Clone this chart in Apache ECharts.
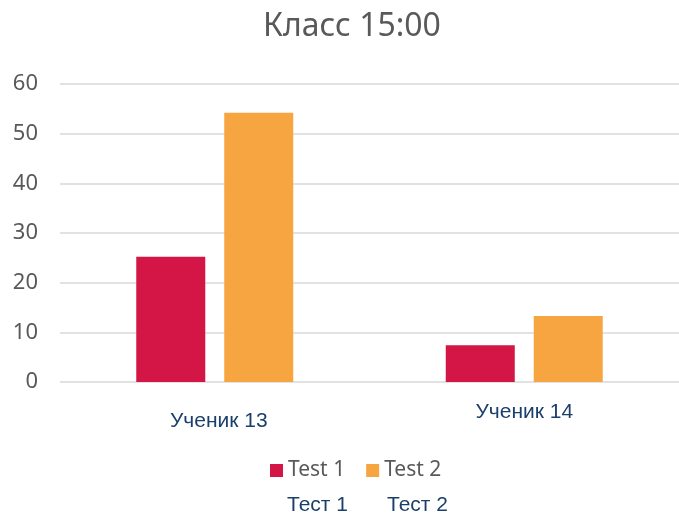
<!DOCTYPE html>
<html>
<head>
<meta charset="utf-8">
<script src="https://cdn.jsdelivr.net/npm/echarts@6/dist/echarts.min.js"></script>
<style>html,body{margin:0;padding:0;background:#fff}#c{width:679px;height:513px}</style>
</head>
<body>
<div id="c"></div>
<script>
var titleText = 'Класс 15:00';
var categories = ['Ученик 13', 'Ученик 14'];
var seriesNames = ['Test 1', 'Test 2'];
var test1 = [25.2, 7.4];
var test2 = [54.2, 13.3];
var footLabels = ['Тест 1', 'Тест 2'];
var yTicks = [0, 10, 20, 30, 40, 50, 60];

var chart = echarts.init(document.getElementById('c'));
chart.setOption({
  animation: false,
  backgroundColor: '#fff',
  title: [
    { text: titleText, left: 258, top: 6,
      textStyle: { fontFamily: 'Noto Sans', fontSize: 32, fontWeight: 'normal', color: '#595959' } },
    { text: footLabels[0], left: 282, top: 490,
      textStyle: { fontFamily: 'Liberation Sans', fontSize: 21, fontWeight: 'normal', color: '#1b3f6b' } },
    { text: footLabels[1], left: 382, top: 490,
      textStyle: { fontFamily: 'Liberation Sans', fontSize: 21, fontWeight: 'normal', color: '#1b3f6b' } }
  ],
  legend: {
    data: seriesNames,
    left: 265, top: 455,
    itemWidth: 13, itemHeight: 13, itemGap: 21,
    icon: 'rect',
    textStyle: { fontFamily: 'Noto Sans', fontSize: 21, color: '#595959' }
  },
  grid: { left: 60, right: 0, top: 84, bottom: 131, containLabel: false },
  xAxis: {
    type: 'category',
    data: categories,
    axisLine: { show: false },
    axisTick: { show: false },
    axisLabel: {
      margin: 20,
      formatter: function (v, i) { return i === 0 ? '{a|' + v + '}' : '{b|' + v + '}'; },
      rich: {
        a: { fontFamily: 'Liberation Sans', fontSize: 21, color: '#1b3f6b', padding: [9, 0, 0, 8] },
        b: { fontFamily: 'Liberation Sans', fontSize: 21, color: '#1b3f6b', padding: [0, 0, 0, 0] }
      }
    }
  },
  yAxis: {
    type: 'value',
    min: yTicks[0], max: yTicks[yTicks.length - 1], interval: 10,
    axisLine: { show: false },
    axisTick: { show: false },
    axisLabel: { margin: 22, fontFamily: 'Noto Sans', fontSize: 22, color: '#595959' },
    splitLine: { lineStyle: { color: '#d9d9d9', width: 1.5 } }
  },
  series: [
    { name: seriesNames[0], type: 'bar', data: test1, barWidth: 69, barGap: '27.5%',
      itemStyle: { color: '#d31645' } },
    { name: seriesNames[1], type: 'bar', data: test2, barWidth: 69, barGap: '27.5%',
      itemStyle: { color: '#f7a541' } }
  ]
});
</script>
</body>
</html>
